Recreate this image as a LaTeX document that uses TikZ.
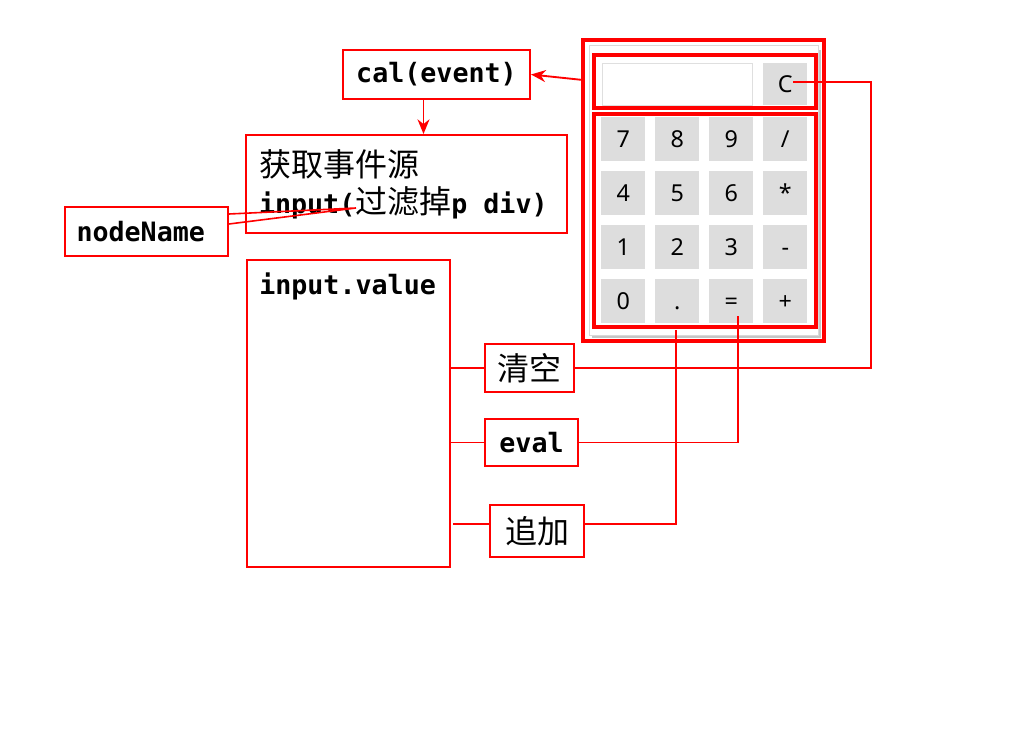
\documentclass[tikz,border=0pt]{standalone}
\usepackage{fontspec}
\setmonofont{DejaVu Sans Mono}
\newfontfamily\cjk{Noto Sans CJK SC}
\newfontfamily\calcfont{Noto Sans}
\usetikzlibrary{arrows.meta,calc}
\definecolor{btn}{HTML}{DDDDDD}
\newcommand\C[1]{{\fontsize{24}{27.75}\selectfont\cjk\mdseries #1}}
\tikzset{
  box/.style={draw=red, line width=1.5pt, fill=white, inner sep=0pt, anchor=north west},
  conn/.style={draw=red, line width=1.4pt},
  arr/.style={conn, -{Stealth[length=11pt,width=9pt]}},
  mono/.style={font=\fontsize{20}{27.75}\selectfont\ttfamily\bfseries},
  key/.style={fill=btn, minimum width=33pt, minimum height=33pt, inner sep=0pt,
    text height=12.5pt, text depth=0pt,
    font=\fontsize{17.5}{18}\selectfont\calcfont, anchor=north west},
  redframe/.style={draw=red, line width=2.6pt},
}
\newcommand\calckey[4]{\node[key] (#1) at (#2,#3) {#4};}
\begin{document}
\begin{tikzpicture}[x=0.75pt,y=-0.75pt]
\useasboundingbox (0,0) rectangle (1024,738);

% calculator
\draw[red, line width=3pt] (583,40) rectangle (824,341);
\fill[gray!45] (592,50) rectangle (821,338);
\draw[gray!30, fill=white, line width=0.75pt] (589,46) rectangle (818,335);
\draw[redframe] (594,55) rectangle (816,108);
\node[draw=gray!25, fill=white, line width=0.75pt, anchor=north west, inner sep=0pt,
      minimum width=112.5pt, minimum height=31.5pt] (disp) at (602,63) {};
\node[key, minimum height=31.5pt] (kc) at (763,63) {C};
\draw[redframe] (594,114) rectangle (816,327);
\calckey{k7}{601}{117}{7}
\calckey{k8}{655}{117}{8}
\calckey{k9}{709}{117}{9}
\calckey{kdiv}{763}{117}{/}
\calckey{k4}{601}{171}{4}
\calckey{k5}{655}{171}{5}
\calckey{k6}{709}{171}{6}
\calckey{kmul}{763}{171}{*}
\calckey{k1}{601}{225}{1}
\calckey{k2}{655}{225}{2}
\calckey{k3}{709}{225}{3}
\calckey{ksub}{763}{225}{-}
\calckey{k0}{601}{279}{0}
\calckey{kdot}{655}{279}{.}
\calckey{keq}{709}{279}{=}
\calckey{kadd}{763}{279}{+}

% boxes
\node[box, mono, minimum width=140.25pt, minimum height=36.75pt] (cal) at (342,49) {cal(event)};
\node[box, mono, minimum width=240.75pt, minimum height=73.5pt, align=left,
      text width=221.25pt] (src) at (245,134)
      {\C{获取事件源}\\\mbox{input(\C{过滤掉}p\hspace*{12.04pt}div)}};
\node[box, mono, minimum width=122.25pt, minimum height=36.75pt, align=left,
      text width=105pt] (nn) at (64,206) {nodeName};
\node[box, minimum width=152.25pt, minimum height=230.25pt] (inval) at (246,259) {};
\node[mono, anchor=west, inner sep=0pt] (ivt) at ($(inval.north west)+(13,27)$) {input.value};
\node[box, minimum width=66.75pt, minimum height=36pt] (qk) at (484,343) {\C{清空}};
\node[box, mono, minimum width=69.75pt, minimum height=35.25pt] (ev) at (484,418) {eval};
\node[box, minimum width=70.5pt, minimum height=39pt] (zj) at (489,504) {\C{追加}};

% connectors
\coordinate (calcin) at (583,80);
\coordinate (cout) at (793,82);
\coordinate (eqpt) at (738,316);
\coordinate (dotpt) at (676,330);
\coordinate (tip) at (356,208);
\draw[arr] (calcin) -- (cal.east);
\draw[arr] ($(cal.south)+(-13,0)$) -- ($(cal.south |- src.north)+(-13,0)$);
\draw[conn] (qk.east) -| (871,82) -- (cout);
\draw[conn] (ev.east) -| (eqpt);
\draw[conn] ($(zj.east)+(0,-7)$) -| (dotpt);
\draw[conn] (qk.west) -- (qk.west -| inval.east);
\draw[conn] (ev.west) -- (ev.west -| inval.east);
\draw[conn] ($(zj.west)+(0,-7)$) -- ($(zj.west -| inval.east)+(2,-7)$);
\draw[conn, line width=1.2pt] ($(nn.north east)+(0,8)$) -- (tip) -- ($(nn.north east)+(0,18)$);
\end{tikzpicture}
\end{document}
